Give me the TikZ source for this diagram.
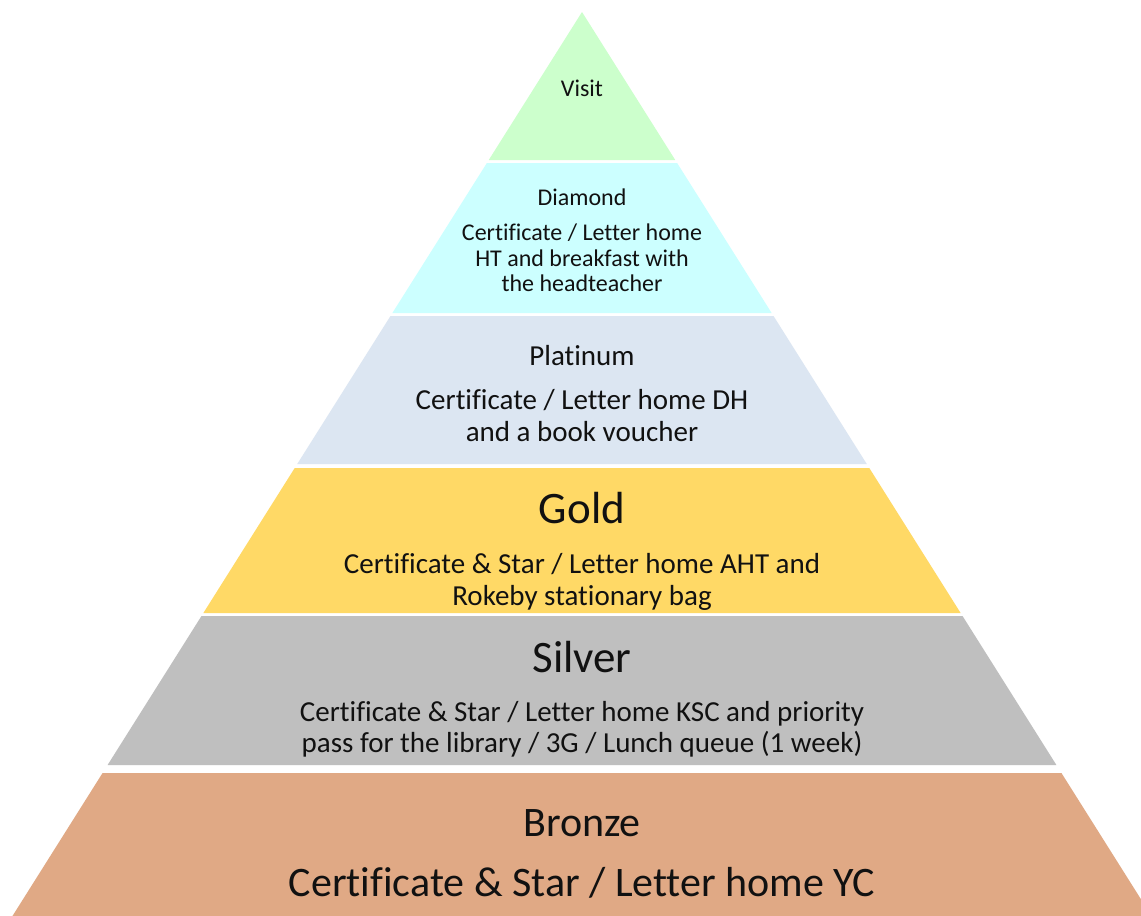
\documentclass[tikz,border=0pt]{standalone}
\usepackage{fontspec}
\setmainfont{Carlito}[Ligatures={NoCommon}]
\definecolor{cvisit}{HTML}{CCFFCC}
\definecolor{cdiamond}{HTML}{CCFFFF}
\definecolor{cplat}{HTML}{DCE6F2}
\definecolor{cgold}{HTML}{FFD966}
\definecolor{csilver}{HTML}{BFBFBF}
\definecolor{cbronze}{HTML}{E0A985}
\definecolor{ctext}{HTML}{111111}
\newcommand{\pyrband}[3]{%
  \fill[#3] ({582-0.63*(#1-12)},#1) -- ({582+0.63*(#1-12)},#1)
    -- ({582+0.63*(#2-12)},#2) -- ({582-0.63*(#2-12)},#2) -- cycle;}
\tikzset{
  lbl/.style={text=ctext, inner sep=0pt, align=center, anchor=center},
}
\begin{document}
\begin{tikzpicture}[x=1pt,y=-1pt]
\useasboundingbox (0,0) rectangle (1141,916);
\clip (0,0) rectangle (1141,916);
\fill[white] (0,0) rectangle (1141,916);
\fill[cvisit] (582,12) -- ({582+0.63*148},160) -- ({582-0.63*148},160) -- cycle;
\pyrband{163}{313}{cdiamond}
\pyrband{316}{464}{cplat}
\pyrband{468}{613}{cgold}
\pyrband{616}{765}{csilver}
\pyrband{773}{930}{cbronze}
% Visit
\node[lbl, font=\fontsize{24}{26}\selectfont] (visit) at (582,88) {Visit};
% Diamond
\node[lbl, font=\fontsize{24}{26}\selectfont] (diat) at (582,197) {Diamond};
\node[lbl, font=\fontsize{24}{25.5}\selectfont] (diab) at (582,258) {Certificate / Letter home\\HT and breakfast with\\the headteacher};
% Platinum
\node[lbl, font=\fontsize{29}{32}\selectfont] (platt) at (582,356) {Platinum};
\node[lbl, font=\fontsize{29}{32}\selectfont] (platb) at (582,416) {Certificate / Letter home DH\\and a book voucher};
% Gold
\node[lbl, font=\fontsize{45}{50}\selectfont] (goldt) at (582,508) {Gold};
\node[lbl, font=\fontsize{29}{32}\selectfont] (goldb) at (582,582) {Certificate \& Star / Letter home AHT and\\Rokeby stationary bag};
% Silver
\node[lbl, font=\fontsize{45}{50}\selectfont] (silt) at (582,657) {Silver};
\node[lbl, font=\fontsize{29}{31}\selectfont] (silb) at (582,729) {Certificate \& Star / Letter home KSC and priority\\pass for the library / 3G / Lunch queue (1 week)};
% Bronze
\node[lbl, font=\fontsize{42}{46}\selectfont] (bront) at (582,823) {Bronze};
\node[lbl, font=\fontsize{42}{46}\selectfont] (bronb) at (582,883) {Certificate \& Star / Letter home YC};
\end{tikzpicture}
\end{document}
